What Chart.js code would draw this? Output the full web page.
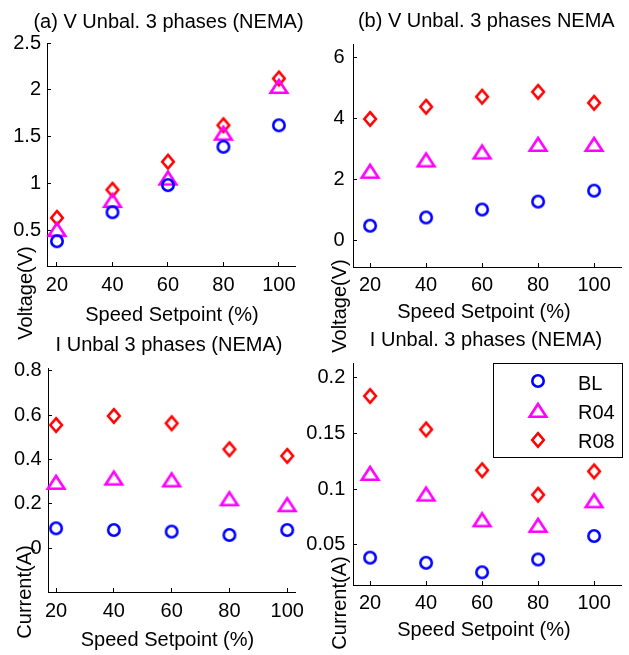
<!DOCTYPE html>
<html>
<head>
<meta charset="utf-8">
<script src="https://cdn.jsdelivr.net/npm/chart.js@4.4.0/dist/chart.umd.min.js"></script>
<style>
html,body{margin:0;padding:0;background:#fff;}
#wrap{position:relative;width:629px;height:655px;overflow:hidden;background:#fff;}
#wrap canvas{position:absolute;left:0;top:0;}
</style>
</head>
<body>
<div id="wrap">
<canvas id="pa" width="629" height="655"></canvas>
<canvas id="pb" width="629" height="655"></canvas>
<canvas id="pc" width="629" height="655"></canvas>
<canvas id="pd" width="629" height="655"></canvas>
</div>
<script>
// ---------- data ----------
const speeds = [20, 40, 60, 80, 100];
const seriesNames = ['BL', 'R04', 'R08'];

const vUnbalA_BL  = [0.38, 0.69, 0.98, 1.39, 1.62];
const vUnbalA_R04 = [0.51, 0.82, 1.06, 1.54, 2.04];
const vUnbalA_R08 = [0.63, 0.93, 1.23, 1.62, 2.12];

const vUnbalB_BL  = [0.47, 0.74, 1.00, 1.26, 1.62];
const vUnbalB_R04 = [2.27, 2.64, 2.90, 3.15, 3.15];
const vUnbalB_R08 = [3.97, 4.37, 4.70, 4.86, 4.50];

const iUnbalC_BL  = [0.090, 0.082, 0.075, 0.060, 0.082];
const iUnbalC_R04 = [0.299, 0.318, 0.310, 0.225, 0.198];
const iUnbalC_R08 = [0.555, 0.596, 0.563, 0.446, 0.416];

const iUnbalD_BL  = [0.0386, 0.0340, 0.0255, 0.0370, 0.0580];
const iUnbalD_R04 = [0.1146, 0.0960, 0.0730, 0.0680, 0.0900];
const iUnbalD_R08 = [0.1836, 0.1536, 0.1170, 0.0950, 0.1160];

const xTickValues = [20, 40, 60, 80, 100];
const yTicksA = [0.5, 1, 1.5, 2, 2.5];
const yTicksB = [0, 2, 4, 6];
const yTicksC = [0, 0.2, 0.4, 0.6, 0.8];
const yTicksD = [0.05, 0.1, 0.15, 0.2];

const titleA = '(a) V Unbal. 3 phases (NEMA)';
const titleB = '(b) V Unbal. 3 phases NEMA';
const titleC = 'I Unbal 3 phases (NEMA)';
const titleD = 'I Unbal. 3 phases (NEMA)';
const xLabel = 'Speed Setpoint (%)';
const yLabelV = 'Voltage(V)';
const yLabelI = 'Current(A)';

// ---------- styling ----------
const FONT = '"Liberation Sans", Arial, Helvetica, sans-serif';
Chart.defaults.font.family = FONT;
Chart.defaults.font.size = 20;
Chart.defaults.color = '#000';

const COLORS = ['#0000ff', '#ff00ff', '#ff0000'];

function makeMarker(shape, color) {
  const c = document.createElement('canvas');
  let w, h;
  if (shape === 'circle') { w = 16; h = 16; }
  else if (shape === 'triangle') { w = 24; h = 20; }
  else { w = 18; h = 22; }
  c.width = w; c.height = h;
  const g = c.getContext('2d');
  g.strokeStyle = color; g.lineWidth = 2.6; g.lineJoin = 'miter';
  g.beginPath();
  if (shape === 'circle') {
    g.arc(8, 8, 5.7, 0, Math.PI * 2);
  } else if (shape === 'triangle') {
    g.moveTo(12, 4); g.lineTo(20.3, 16.8); g.lineTo(3.7, 16.8); g.closePath();
  } else {
    g.moveTo(9, 4.2); g.lineTo(14.8, 11); g.lineTo(9, 17.8); g.lineTo(3.2, 11); g.closePath();
  }
  g.stroke();
  return c;
}
const MARKERS = [makeMarker('circle', COLORS[0]), makeMarker('triangle', COLORS[1]), makeMarker('diamond', COLORS[2])];

const annotPlugin = {
  id: 'annot',
  afterDraw(chart, args, o) {
    const ctx = chart.ctx;
    ctx.save();
    ctx.fillStyle = '#000';
    ctx.font = '20px ' + FONT;
    ctx.textBaseline = 'alphabetic';
    ctx.textAlign = 'center';
    ctx.fillText(o.title, o.titleX, o.titleY);
    ctx.fillText(o.xlabel, o.xlabelX, o.xlabelY);
    ctx.save();
    ctx.translate(o.ylabelX, o.ylabelY);
    ctx.rotate(-Math.PI / 2);
    ctx.fillText(o.ylabel, 0, 0);
    ctx.restore();
    if (o.legend) {
      const L = o.legend;
      ctx.fillStyle = '#fff';
      ctx.fillRect(L.x, L.y, L.w, L.h);
      ctx.strokeStyle = '#000';
      ctx.lineWidth = 1;
      ctx.strokeRect(L.x + 0.5, L.y + 0.5, L.w, L.h);
      ctx.fillStyle = '#000';
      ctx.textAlign = 'left';
      chart.data.datasets.forEach((ds, i) => {
        const img = ds.pointStyle;
        ctx.drawImage(img, Math.round(L.markerX - img.width / 2), Math.round(L.rows[i] - img.height / 2));
        ctx.fillText(ds.label, L.textX, L.baselines[i]);
      });
    }
    ctx.restore();
  }
};

const XH = 40;

function makePanel(id, p) {
  const YW = p.area.left - 2;
  const datasets = p.series.map((vals, i) => ({
    label: seriesNames[i],
    data: speeds.map((s, j) => ({ x: s, y: vals[j] })),
    pointStyle: MARKERS[i],
    pointRadius: 7,
    borderColor: COLORS[i],
    backgroundColor: 'rgba(0,0,0,0)',
    showLine: false,
    clip: false
  }));
  const axisCommon = {
    type: 'linear',
    grid: { drawOnChartArea: false, drawTicks: true, tickLength: -4, color: '#000', lineWidth: 1 },
    border: { display: true, color: '#000', width: 1 },
  };
  new Chart(document.getElementById(id), {
    type: 'scatter',
    data: { datasets },
    options: {
      responsive: false,
      animation: false,
      devicePixelRatio: 1,
      events: [],
      layout: { padding: {
        left: 2, top: p.area.top,
        right: 629 - p.area.right, bottom: 655 - p.area.bottom - XH } },
      plugins: {
        legend: { display: false },
        tooltip: { enabled: false },
        annot: p.annot
      },
      scales: {
        x: Object.assign({}, axisCommon, {
          position: 'bottom',
          min: p.xr[0], max: p.xr[1],
          afterBuildTicks: s => { s.ticks = xTickValues.map(v => ({ value: v })); },
          afterFit: s => { s.height = XH; },
          ticks: { padding: p.xpad, maxRotation: 0, autoSkip: false, color: '#000',
                   font: { size: 20 }, callback: v => String(v) }
        }),
        y: Object.assign({}, axisCommon, {
          position: 'left',
          min: p.yr[0], max: p.yr[1],
          afterBuildTicks: s => { s.ticks = p.yticks.map(v => ({ value: v })); },
          afterFit: s => { s.width = YW; },
          ticks: { padding: p.ypad, autoSkip: false, color: '#000',
                   font: { size: 20 }, callback: v => String(v) }
        })
      }
    },
    plugins: [annotPlugin]
  });
}

makePanel('pa', {
  series: [vUnbalA_BL, vUnbalA_R04, vUnbalA_R08],
  area: { left: 47, right: 295, top: 43, bottom: 266 },
  xr: [16.4, 105.8], yr: [0.115, 2.5], yticks: yTicksA, xpad: 11, ypad: 10,
  annot: { title: titleA, titleX: 168.5, titleY: 28,
           xlabel: xLabel, xlabelX: 172, xlabelY: 321,
           ylabel: yLabelV, ylabelX: 32, ylabelY: 293 }
});
makePanel('pb', {
  series: [vUnbalB_BL, vUnbalB_R04, vUnbalB_R08],
  area: { left: 353, right: 622, top: 44, bottom: 267 },
  xr: [13.9, 109.6], yr: [-0.885, 6.43], yticks: yTicksB, xpad: 10.5, ypad: 12.5,
  annot: { title: titleB, titleX: 486.3, titleY: 27,
           xlabel: xLabel, xlabelX: 484, xlabelY: 318,
           ylabel: yLabelV, ylabelX: 346, ylabelY: 306 }
});
makePanel('pc', {
  series: [iUnbalC_BL, iUnbalC_R04, iUnbalC_R08],
  area: { left: 48, right: 295, top: 368, bottom: 592 },
  xr: [17.2, 102.7], yr: [-0.197, 0.812], yticks: yTicksC, xpad: 11, ypad: 10.3,
  annot: { title: titleC, titleX: 169, titleY: 350.5,
           xlabel: xLabel, xlabelX: 167.5, xlabelY: 646,
           ylabel: yLabelI, ylabelX: 31, ylabelY: 592 }
});
makePanel('pd', {
  series: [iUnbalD_BL, iUnbalD_R04, iUnbalD_R08],
  area: { left: 353, right: 622, top: 363, bottom: 585 },
  xr: [13.9, 109.6], yr: [0.0141, 0.2132], yticks: yTicksD, xpad: 10, ypad: 11.7,
  annot: { title: titleD, titleX: 486, titleY: 346,
           xlabel: xLabel, xlabelX: 484, xlabelY: 636,
           ylabel: yLabelI, ylabelX: 346, ylabelY: 603,
           legend: { x: 493, y: 363, w: 129, h: 94, markerX: 537.7,
                     rows: [381, 410, 440], textX: 578, baselines: [390, 419, 448] } }
});
</script>
</body>
</html>
